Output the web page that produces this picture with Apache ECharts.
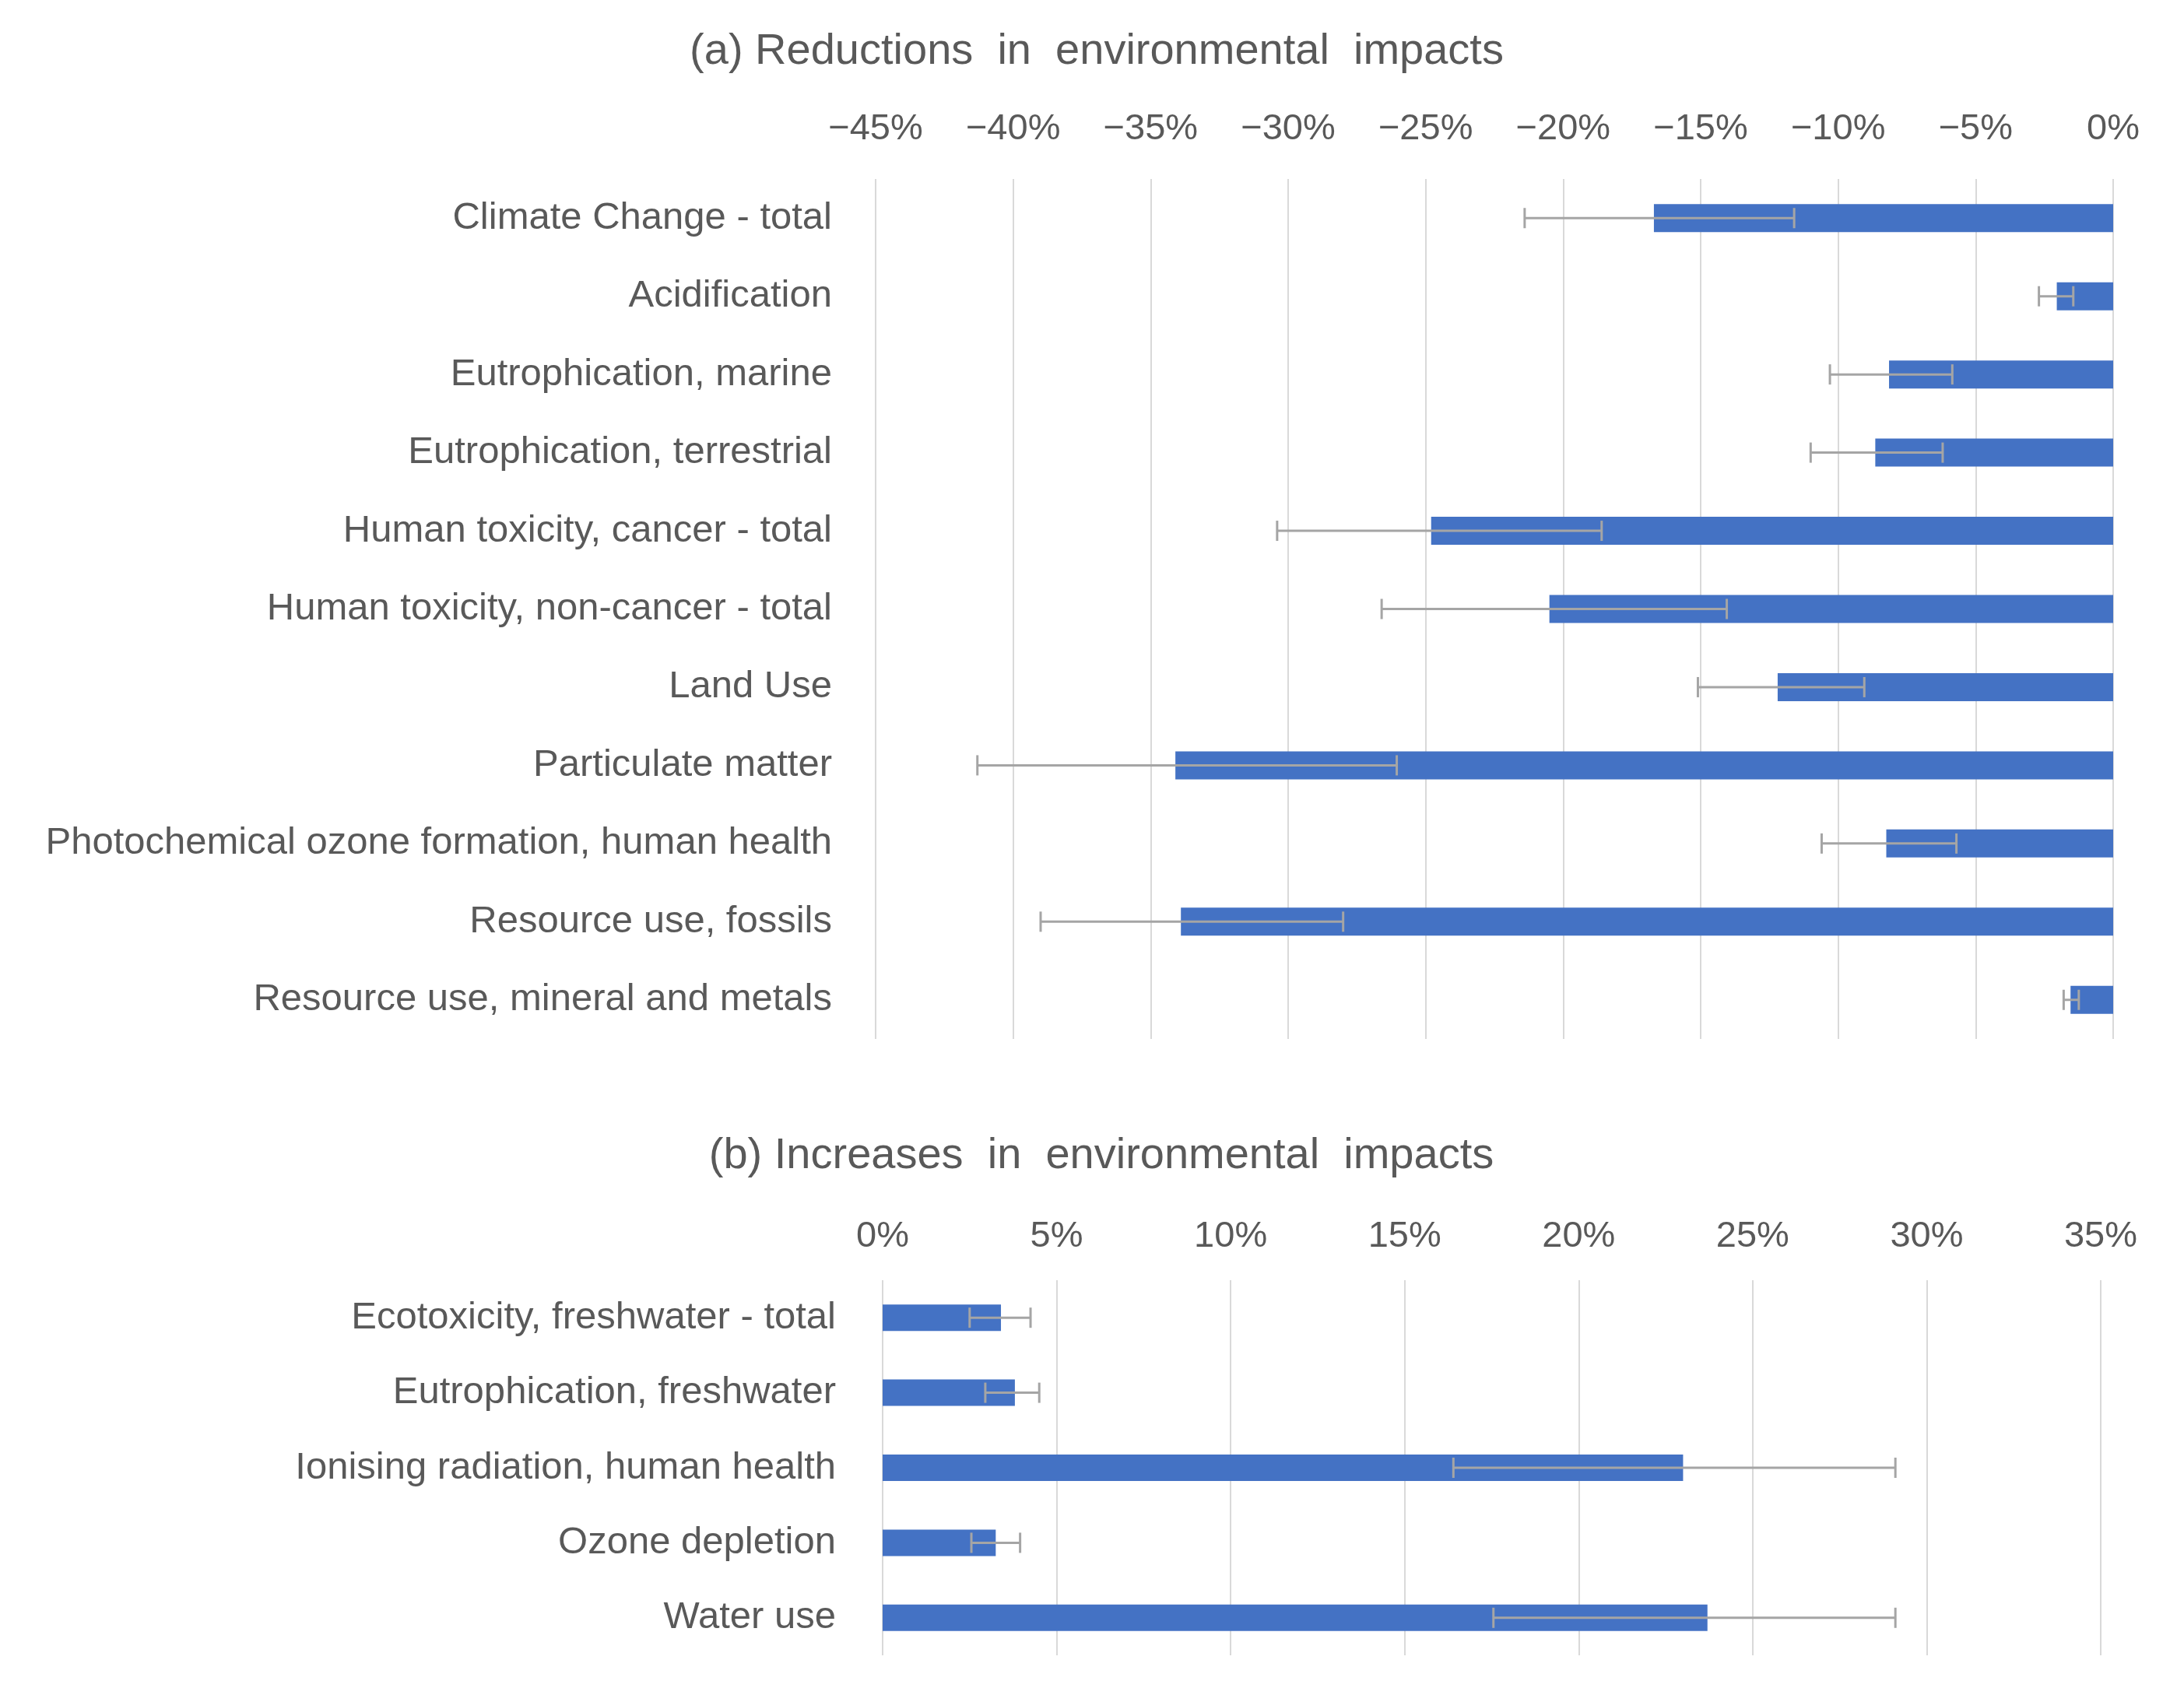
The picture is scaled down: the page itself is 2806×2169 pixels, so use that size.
<!DOCTYPE html>
<html>
<head>
<meta charset="utf-8">
<script src="https://cdn.jsdelivr.net/npm/echarts@6/dist/echarts.min.js"></script>
<style>
  body { margin: 0; background: #fff; }
  #main { width: 2806px; height: 2169px; }
</style>
</head>
<body>
<div id="main"></div>
<script>
// (a) reductions
var catsA = ['Climate Change - total', 'Acidification', 'Eutrophication, marine',
  'Eutrophication, terrestrial', 'Human toxicity, cancer - total',
  'Human toxicity, non-cancer - total', 'Land Use', 'Particulate matter',
  'Photochemical ozone formation, human health', 'Resource use, fossils',
  'Resource use, mineral and metals'];
var valsA = [-16.7, -2.05, -8.15, -8.65, -24.8, -20.5, -12.2, -34.1, -8.25, -33.9, -1.55];
var lowA  = [-21.4, -2.7, -10.3, -11.0, -30.4, -26.6, -15.1, -41.3, -10.6, -39.0, -1.8];
var highA = [-11.6, -1.45, -5.85, -6.2, -18.6, -14.05, -9.05, -26.05, -5.7, -28.0, -1.25];

// (b) increases
var catsB = ['Ecotoxicity, freshwater - total', 'Eutrophication, freshwater',
  'Ionising radiation, human health', 'Ozone depletion', 'Water use'];
var valsB = [3.4, 3.8, 23.0, 3.25, 23.7];
var lowB  = [2.5, 2.95, 16.4, 2.55, 17.55];
var highB = [4.25, 4.5, 29.1, 3.95, 29.1];

var titleA = '(a) Reductions  in  environmental  impacts';
var titleB = '(b) Increases  in  environmental  impacts';

var font = 'Liberation Sans, Arial, sans-serif';
var textColor = '#595959';
var blue = '#4472C4';
var errColor = '#A5A5A5';

function pct(v) {
  return (v < 0 ? '\u2212' + (-v) : v) + '%';
}

function errItem(params, api) {
  var lo = api.coord([api.value(1), api.value(0)]);
  var hi = api.coord([api.value(2), api.value(0)]);
  var cap = 13;
  var style = { stroke: errColor, lineWidth: 3 };
  return {
    type: 'group',
    children: [
      { type: 'line', shape: { x1: lo[0], y1: lo[1], x2: hi[0], y2: hi[1] }, style: style },
      { type: 'line', shape: { x1: lo[0], y1: lo[1] - cap, x2: lo[0], y2: lo[1] + cap }, style: style },
      { type: 'line', shape: { x1: hi[0], y1: hi[1] - cap, x2: hi[0], y2: hi[1] + cap }, style: style }
    ]
  };
}

function errData(cats, low, high) {
  var d = [];
  for (var i = 0; i < cats.length; i++) d.push([i, low[i], high[i]]);
  return d;
}

var myChart = echarts.init(document.getElementById('main'));

var option = {
  animation: false,
  backgroundColor: '#fff',
  textStyle: { fontFamily: font },
  title: [
    { text: titleA, left: 1404, top: 34, textAlign: 'center',
      textStyle: { color: textColor, fontSize: 56, fontWeight: 'normal', fontFamily: font } },
    { text: titleB, left: 1410, top: 1453, textAlign: 'center',
      textStyle: { color: textColor, fontSize: 56, fontWeight: 'normal', fontFamily: font } }
  ],
  grid: [
    { left: 1125, right: 91, top: 230, height: 1105 },
    { left: 1134, right: 107, top: 1645, height: 482 }
  ],
  xAxis: [
    { gridIndex: 0, type: 'value', position: 'top', min: -45, max: 0, interval: 5,
      axisLine: { show: false }, axisTick: { show: false },
      splitLine: { lineStyle: { color: '#D9D9D9', width: 2 } },
      axisLabel: { formatter: pct, color: textColor, fontSize: 47, margin: 40 } },
    { gridIndex: 1, type: 'value', position: 'top', min: 0, max: 35, interval: 5,
      axisLine: { show: false }, axisTick: { show: false },
      splitLine: { lineStyle: { color: '#D9D9D9', width: 2 } },
      axisLabel: { formatter: pct, color: textColor, fontSize: 47, margin: 32 } }
  ],
  yAxis: [
    { gridIndex: 0, type: 'category', data: catsA, inverse: true,
      axisLine: { show: false }, axisTick: { show: false },
      axisLabel: { color: textColor, fontSize: 49, margin: 56 } },
    { gridIndex: 1, type: 'category', data: catsB, inverse: true,
      axisLine: { show: false }, axisTick: { show: false },
      axisLabel: { color: textColor, fontSize: 49, margin: 60 } }
  ],
  series: [
    { type: 'bar', xAxisIndex: 0, yAxisIndex: 0, data: valsA, barWidth: 36,
      itemStyle: { color: blue } },
    { type: 'custom', xAxisIndex: 0, yAxisIndex: 0, renderItem: errItem,
      encode: { x: [1, 2], y: 0 }, data: errData(catsA, lowA, highA), z: 5 },
    { type: 'bar', xAxisIndex: 1, yAxisIndex: 1, data: valsB, barWidth: 34,
      itemStyle: { color: blue } },
    { type: 'custom', xAxisIndex: 1, yAxisIndex: 1, renderItem: errItem,
      encode: { x: [1, 2], y: 0 }, data: errData(catsB, lowB, highB), z: 5 }
  ]
};

myChart.setOption(option);
</script>
</body>
</html>
